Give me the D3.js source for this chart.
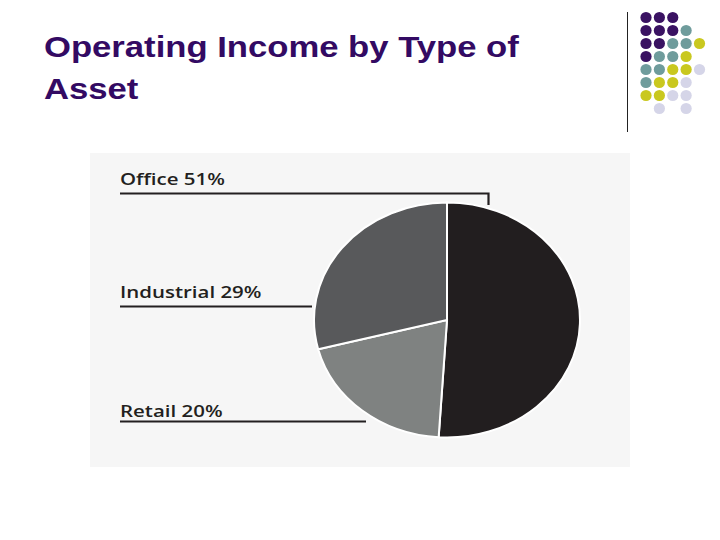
<!DOCTYPE html>
<html>
<head>
<meta charset="utf-8">
<script src="https://cdn.jsdelivr.net/npm/d3@7"></script>
<style>
  html, body { margin: 0; padding: 0; background: #ffffff; }
  svg { display: block; }
</style>
</head>
<body>
<svg id="chart" width="720" height="540"></svg>
<script>
// ---- data ----
const titleLines = ["Operating Income by Type of", "Asset"];
const categories = ["Office", "Retail", "Industrial"];
const values = [51, 20, 29];
const sliceColors = ["#221e1f", "#7f8281", "#58595b"];
// decorative dot grid (P purple, T teal, Y yellow, L lavender, . empty)
const dotRows = [
  "PPP..",
  "PPPT.",
  "PPTTY",
  "PTTY.",
  "TTYYL",
  "TYYL.",
  "YYLL.",
  ".L.L."
];
const dotColors = { P: "#3a1262", T: "#6f9c9c", Y: "#c9c81f", L: "#d5d5e8" };

const svg = d3.select("#chart");

// title (slide is stretched horizontally)
const title = svg.append("text")
  .attr("transform", "translate(44,57) scale(1.195,1)")
  .attr("font-family", "Liberation Sans, Arial, sans-serif")
  .attr("font-weight", "bold")
  .attr("font-size", 29)
  .attr("fill", "#330a63");
title.selectAll("tspan").data(titleLines).join("tspan")
  .attr("x", 0)
  .attr("dy", (d, i) => i === 0 ? 0 : 42)
  .text(d => d);

// divider line
svg.append("line")
  .attr("x1", 627.5).attr("x2", 627.5)
  .attr("y1", 12).attr("y2", 132)
  .attr("stroke", "#222").attr("stroke-width", 1);

// dot grid
const colX = d3.scaleLinear().domain([0, 4]).range([646, 699.5]);
const rowY = d3.scaleLinear().domain([0, 7]).range([17.5, 108.5]);
const dots = [];
dotRows.forEach((row, r) => row.split("").forEach((c, k) => { if (c !== ".") dots.push({ r, k, c }); }));
svg.append("g").selectAll("circle").data(dots).join("circle")
  .attr("cx", d => colX(d.k))
  .attr("cy", d => rowY(d.r))
  .attr("r", 5.6)
  .attr("fill", d => dotColors[d.c]);

// panel
svg.append("rect")
  .attr("x", 90).attr("y", 153)
  .attr("width", 540).attr("height", 314)
  .attr("fill", "#f6f6f6");

// pie (slightly elliptical)
const cx = 447, cy = 320, rx = 133, ry = 117.5;
const pie = d3.pie().sort(null).value(d => d.v);
const arcs = pie(categories.map((c, i) => ({ c, v: values[i], col: sliceColors[i] })));
const arc = d3.arc().innerRadius(0).outerRadius(rx);
svg.append("g")
  .attr("transform", `translate(${cx},${cy}) scale(1,${ry / rx})`)
  .selectAll("path").data(arcs).join("path")
  .attr("d", arc)
  .attr("fill", d => d.data.col)
  .attr("stroke", "#ffffff")
  .attr("stroke-width", 2)
  .attr("vector-effect", "non-scaling-stroke");

// labels and leader lines
const labelFont = "Open Sans, Noto Sans, sans-serif";
const labels = [
  { i: 0, y: 184.5, path: [[120, 193.5], [488.5, 193.5], [488.5, 205]] },
  { i: 2, y: 298, path: [[120, 306.5], [312, 306.5]] },
  { i: 1, y: 416.5, path: [[120, 421.5], [366, 421.5]] }
];
const line = d3.line();
labels.forEach(l => {
  svg.append("text")
    .attr("transform", `translate(120,${l.y}) scale(1.24,1)`)
    .attr("font-family", labelFont)
    .attr("font-weight", 600)
    .attr("font-size", 16.5)
    .attr("fill", "#231f20")
    .text(`${categories[l.i]} ${values[l.i]}%`);
  svg.append("path")
    .attr("d", line(l.path))
    .attr("fill", "none")
    .attr("stroke", "#231f20")
    .attr("stroke-width", 2.2);
});
</script>
</body>
</html>
